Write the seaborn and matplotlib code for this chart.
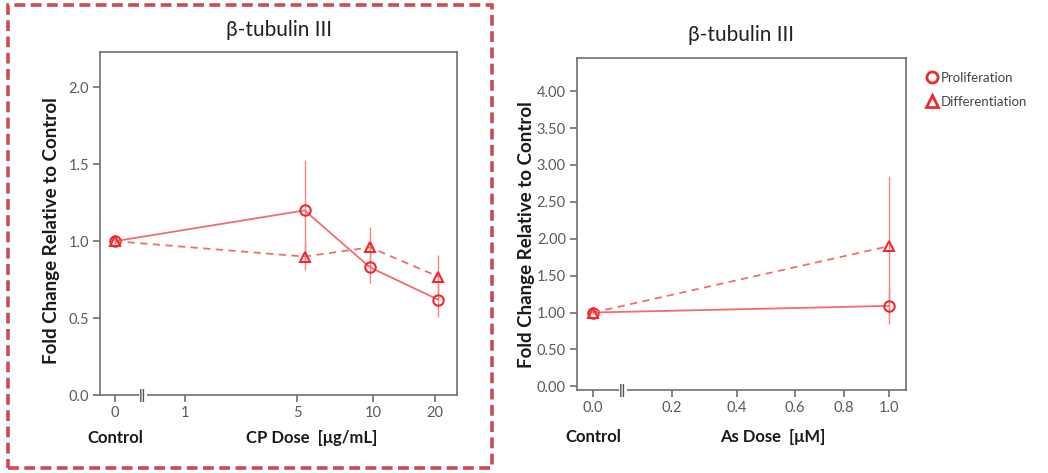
import numpy as np
import pandas as pd
import matplotlib.pyplot as plt
from matplotlib.lines import Line2D
from matplotlib.patches import Rectangle
import seaborn as sns

sns.set_style('white')
plt.rcParams['font.family'] = ['Lato', 'DejaVu Sans']

## Data

# CP panel
cp_dose = [0, 5.5, 9.8, 20.5]
cp_prolif = [1.0, 1.20, 0.83, 0.62]
cp_prolif_err = [0.02, 0.33, 0.10, 0.11]
cp_diff = [1.0, 0.90, 0.96, 0.77]
cp_diff_err = [0.02, 0.09, 0.13, 0.14]

# As panel
as_dose = [0.0, 1.0]
as_prolif = [1.0, 1.09]
as_prolif_err = [0.02, 0.24]
as_diff = [1.0, 1.90]
as_diff_err = [0.02, 0.95]

# axis layout (broken, non-linear dose axes)
cp_ticks = [0, 1, 5, 10, 20, 30]
cp_tick_pos = [0, 70, 182, 258, 320, 382]
cp_tick_labels = ['0', '1', '5', '10', '20']
as_ticks = [0.0, 0.2, 0.4, 0.6, 0.8, 1.0]
as_tick_pos = [0, 79, 144, 202, 251, 296]
as_tick_labels = ['0.0', '0.2', '0.4', '0.6', '0.8', '1.0']

line_c = '#f26e6e'
mark_c = '#ee2a2e'
err_c = '#f48585'

fig = plt.figure(figsize=(10.48, 4.73), dpi=100)
ax1 = fig.add_axes([100/1048, 1-395/473, 357/1048, 343/473])
ax2 = fig.add_axes([577/1048, 1-390/473, 329/1048, 332/473])


def draw(ax, dose, ticks, tick_pos, prolif, perr, diff, derr):
    x = np.interp(dose, ticks, tick_pos)
    df = pd.DataFrame({'x': np.concatenate([x, x]),
                       'y': prolif + diff,
                       'cond': ['Proliferation'] * len(x) + ['Differentiation'] * len(x)})
    ax.errorbar(x, prolif, yerr=perr, fmt='none', ecolor=err_c, elinewidth=1, capsize=0, zorder=2)
    ax.errorbar(x, diff, yerr=derr, fmt='none', ecolor=err_c, elinewidth=1, capsize=0, zorder=2)
    sns.lineplot(data=df[df.cond == 'Proliferation'], x='x', y='y', ax=ax, color=line_c,
                 lw=1.3, marker='o', markersize=7.5, markerfacecolor='none',
                 markeredgecolor=mark_c, markeredgewidth=1.5, zorder=3)
    sns.lineplot(data=df[df.cond == 'Differentiation'], x='x', y='y', ax=ax, color=line_c,
                 lw=1.3, ls=(0, (4, 3)), marker='^', markersize=7.5, markerfacecolor='none',
                 markeredgecolor=mark_c, markeredgewidth=1.5, zorder=3)


draw(ax1, cp_dose, cp_ticks, cp_tick_pos, cp_prolif, cp_prolif_err, cp_diff, cp_diff_err)
draw(ax2, as_dose, as_ticks, as_tick_pos, as_prolif, as_prolif_err, as_diff, as_diff_err)

ax1.set_xlim(-15, 342)
ax1.set_ylim(0, 2.23)
ax1.set_xticks(cp_tick_pos[:5])
ax1.set_xticklabels(cp_tick_labels)
ax1.set_yticks([0, 0.5, 1.0, 1.5, 2.0])
ax1.set_yticklabels(['0.0', '0.5', '1.0', '1.5', '2.0'])

ax2.set_xlim(-16, 313)
ax2.set_ylim(-0.05, 4.45)
ax2.set_xticks(as_tick_pos)
ax2.set_xticklabels(as_tick_labels)
ax2.set_yticks(np.arange(0, 4.01, 0.5))
ax2.set_yticklabels(['%.2f' % v for v in np.arange(0, 4.01, 0.5)])

for ax, xlab, xlab_pos, brk, lab_y, ylab_x, ylab_y in [
        (ax1, 'CP Dose  [μg/mL]', 197, 28, -0.125, -0.112, 0.478),
        (ax2, 'As Dose  [μM]', 180, 30, -0.142, -0.128, 0.467)]:
    for s in ax.spines.values():
        s.set_color('#707070')
        s.set_linewidth(1.2)
    ax.tick_params(axis='both', which='both', direction='out', length=5, width=1.2,
                   color='#707070', labelcolor='#5a5a5a', labelsize=10.5,
                   bottom=True, left=True, pad=3)
    ax.set_xlabel('')
    ax.set_ylabel('Fold Change Relative to Control', fontsize=13.5, fontweight='bold',
                  color='#1a1a1a')
    ax.yaxis.set_label_coords(ylab_x, ylab_y)
    tr = ax.get_xaxis_transform()
    ax.text(0, lab_y, 'Control', transform=tr, ha='center', va='center',
            fontsize=12, fontweight='bold', color='#1a1a1a')
    ax.text(xlab_pos, lab_y, xlab, transform=tr, ha='center', va='center',
            fontsize=12, fontweight='bold', color='#1a1a1a')
    ax.text(brk, 0, '||', transform=tr, ha='center', va='center', fontsize=10,
            color='#555555', fontweight='bold',
            bbox=dict(boxstyle='square,pad=0.05', fc='white', ec='none'), clip_on=False)
    ax.grid(False)

ax1.text(0.5, 1.064, 'β-tubulin III', transform=ax1.transAxes, ha='center', va='center',
         fontsize=15, color='#222222')
ax2.text(0.5, 1.069, 'β-tubulin III', transform=ax2.transAxes, ha='center', va='center',
         fontsize=15, color='#222222')

handles = [Line2D([], [], ls='none', marker='o', markersize=8, mfc='none', mec=mark_c, mew=2),
           Line2D([], [], ls='none', marker='^', markersize=8, mfc='none', mec=mark_c, mew=2)]
fig.legend(handles, ['Proliferation', 'Differentiation'], loc='upper left',
           bbox_to_anchor=(912/1048, 1-60/473), frameon=False, fontsize=9.5,
           handletextpad=0.1, handlelength=1.2, labelspacing=0.9, labelcolor='#444444')

fig.add_artist(Rectangle((8/1048, 1-468/473), 484/1048, 463/473, transform=fig.transFigure,
                         fill=False, ec='#cf4a4e', lw=2.6, ls=(0, (3, 1.5))))

fig.savefig('out.png', dpi=100)
